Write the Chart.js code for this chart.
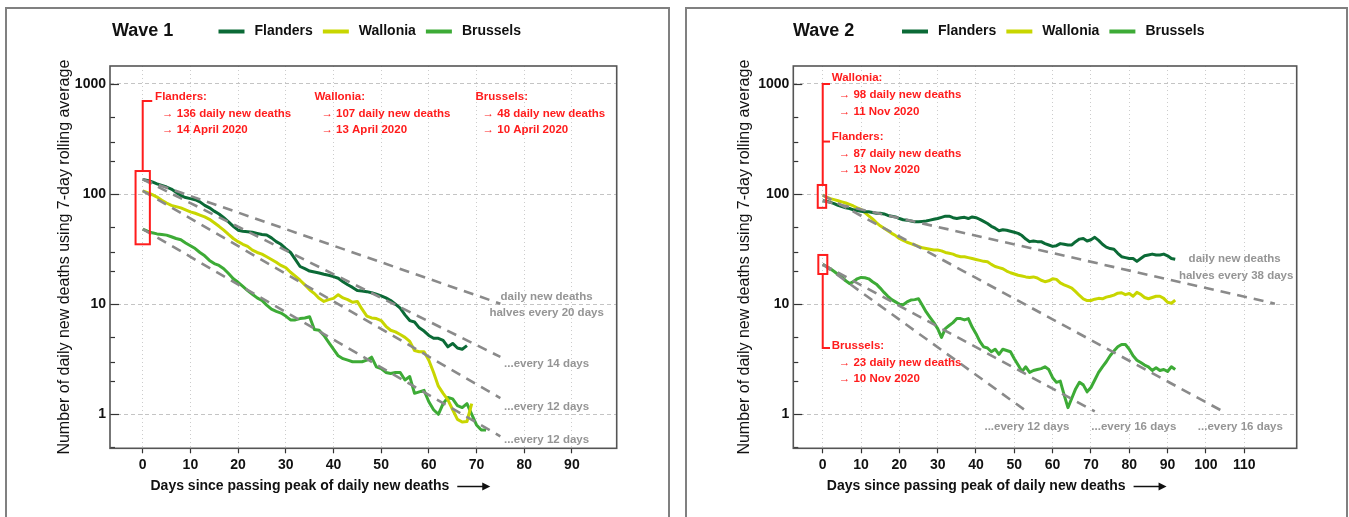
<!DOCTYPE html>
<html>
<head>
<meta charset="utf-8">
<script src="https://cdn.jsdelivr.net/npm/chart.js@4.4.1/dist/chart.umd.min.js"></script>
<style>
  html, body { margin: 0; padding: 0; background: #fff; }
  #wrap { position: relative; width: 1349px; height: 517px; overflow: hidden; }
  .panel { position: absolute; top: 7px; height: 530px; border: 2px solid #808080; box-sizing: border-box; }
  canvas { position: absolute; top: 0; }
</style>
</head>
<body>
<div id="wrap">
  <div class="panel" style="left:5px;width:665px"></div>
  <div class="panel" style="left:685px;width:663px"></div>
  <canvas id="wave1" width="680" height="517" style="left:0"></canvas>
  <canvas id="wave2" width="669" height="517" style="left:680px"></canvas>
</div>
<script>
// ---- data: 7-day rolling average of daily new deaths, indexed by days since the regional peak ----
const regions = ['Flanders', 'Wallonia', 'Brussels'];

const wave1Flanders = [136,133,129,124,120,116,111,104,97,93,
  91,89,85,79,75,70,66,61,56,51,
  47,46,45.5,45,44,43,42.5,40,37,35,
  32,29.5,25.5,22,21,20,19.6,19.2,18.7,18.3,
  17.8,17.2,16,15,14.2,13.3,13.2,13,12.7,12.3,
  11.9,11.4,10.8,10,9.2,8,7.1,6.9,6.1,5.7,
  5.2,4.9,4.9,4.7,4.1,4.4,4.0,3.9,4.2];
const wave1Wallonia = [107,103,99,94,88,83,79,77,75,72,
  69,67,64.5,62,59,55,51,47,43,39.5,
  37,35,33.5,31,29.5,28.5,27,25.5,24,22.5,
  21.5,19.5,18,16.5,15,13.5,12.5,11.3,10.6,11,
  11.3,12.2,11.4,11,10.4,10.6,9,7.8,7.5,7.4,
  7.1,6.3,5.8,5.6,5.3,5.0,4.6,3.8,3.7,3.7,
  3.1,2.4,1.8,1.55,1.35,1.1,0.9,0.85,0.86,1.25];
const wave1Brussels = [48,46,44.5,43.5,43,42.4,41,39.5,38.5,36,
  34,32,29.5,27.5,25,23.4,22.5,21,19,17,
  15.8,14.5,13.3,12.3,11.4,10.8,9.8,9.0,8.6,8.3,
  7.8,7.2,7.2,7.4,7.5,7.7,5.9,5.8,5.2,4.5,
  3.9,3.4,3.2,3.1,3.0,3.0,3.0,3.1,3.3,2.7,
  2.6,2.4,2.35,2.4,2.4,2.05,2.2,1.55,1.6,1.65,
  1.3,1.1,1.0,1.25,1.42,1.38,1.2,1.15,1.25,1.0,
  0.8,0.72,0.72];

const wave2Flanders = [87,86,84,82,79,77,75,74,72,71,
  70,69,69,68,67,67,66,64,63,62,
  60,58.5,58,57,56,56,56.5,57,58,59,
  60,61.5,63,63,61,60,61,61.5,60,62,
  61,59,56.5,54,51,49,46.5,47.5,47,46,
  45,44,42,39,37,37.5,37,37,35.5,34.5,
  33.5,34,35.5,35,34.5,34.5,37,39,39.5,37.5,
  38.5,40.5,38,35,33,32,31.5,29,27,26.5,
  26,26,24.5,26,27.5,28,28.5,28,28,28.5,
  27.5,26,25.6];
const wave2Wallonia = [98,94,91,89,87,85,83,80.5,78,75,
  72.5,68,63.5,59.5,55,51.5,49,46.5,44,42,
  39.5,38,36.5,35.5,34.5,33.5,32.5,32,31.5,31,
  31,30.5,29.5,29,28.5,27.5,27,27,26.5,26,
  25.5,25,24.5,24.3,23,22,21.5,21,20,19.3,
  18.8,18.3,18,17.7,17.5,17.7,17.3,16.5,16,16.3,
  17,16.8,15.6,15,14.5,14,13,12,11.2,10.8,
  10.8,11.1,11.3,11.2,11.6,11.8,12.1,12.6,12.7,12.2,
  12.5,11.8,12.8,12.3,11.5,11.2,11.5,11.8,11.8,11.3,
  10.4,10.2,10.9];
const wave2Brussels = [23,22,21,19.8,18.6,17.7,16.3,15.4,16,17,
  17.5,17.4,17,16,15.2,14,12.8,11.8,11,10.5,
  10,9.9,10.5,10.9,11,11.2,9.8,8.5,7.6,6.8,
  6.0,5.0,6.0,6.4,6.8,7.4,7.4,7.2,7.4,6.2,
  5.4,4.6,4.1,4.0,3.7,3.9,3.5,3.9,3.8,3.7,
  3.2,2.8,2.45,2.7,2.4,2.5,2.55,2.6,2.7,2.55,
  2.15,1.95,2.0,1.5,1.15,1.4,1.7,1.95,1.85,1.6,
  1.75,2.05,2.4,2.7,3.0,3.4,3.75,4.1,4.3,4.3,
  3.9,3.4,3.1,2.95,2.8,2.7,2.5,2.65,2.5,2.55,
  2.45,2.7,2.55];

// reference decay lines: starting level, halving time (days), last day drawn
const wave1TrendStart   = [136, 136, 107, 48];
const wave1TrendHalving = [20, 14, 12, 12];
const wave1TrendEnd     = [75, 75, 75, 75];
const wave2TrendStart   = [87, 98, 23, 23];
const wave2TrendHalving = [38, 16, 16, 12];
const wave2TrendEnd     = [118, 105, 71, 54];

const wave1PeakDates = ['14 April 2020', '13 April 2020', '10 April 2020'];
const wave2PeakDates = ['13 Nov 2020', '11 Nov 2020', '10 Nov 2020'];

const wave1XTicks = [0, 10, 20, 30, 40, 50, 60, 70, 80, 90];
const wave2XTicks = [0, 10, 20, 30, 40, 50, 60, 70, 80, 90, 100, 110];
const yTickValues = [0.5, 1, 2, 3, 5, 10, 20, 30, 50, 100, 200, 300, 500, 1000];
const yLabelValues = [1, 10, 100, 1000];

// ---- styling ----
const FAMILY = "'Liberation Sans', Arial, Helvetica, sans-serif";
const REGION_COLORS = ['#0b6a36', '#c8d600', '#3dab36'];
const RED = '#ff1c1c';
const GUIDE_GREY = '#959595';
Chart.defaults.font.family = FAMILY;

const peakNote = (name, series, date) => ({ title: name + ':', lines: ['\u2192 ' + series[0] + ' daily new deaths', '\u2192 ' + date] });

// header, red peak markers, grey guide captions, frame and inward y ticks
const overlay = {
  id: 'overlay',
  afterDatasetsDraw(chart, _a, o) {
    const { ctx, chartArea: a } = chart;
    const xs = chart.scales.x, ys = chart.scales.y;
    const px = v => xs.getPixelForValue(v), py = v => ys.getPixelForValue(v);
    ctx.save();
    // inward y ticks
    ctx.strokeStyle = '#333'; ctx.lineWidth = 1.2;
    yTickValues.forEach(v => {
      const yy = Math.round(py(v)) + 0.5;
      const len = yLabelValues.includes(v) ? 9 : 5;
      ctx.beginPath(); ctx.moveTo(a.left, yy); ctx.lineTo(a.left + len, yy); ctx.stroke();
    });
    // plot frame
    ctx.strokeStyle = '#555'; ctx.lineWidth = 1.6;
    ctx.strokeRect(a.left, a.top, a.right - a.left, a.bottom - a.top);
    // red peak markers
    ctx.strokeStyle = RED; ctx.lineWidth = 2;
    o.boxes.forEach(([x0, y0, x1, y1]) => {
      ctx.strokeRect(px(x0), py(y1), px(x1) - px(x0), py(y0) - py(y1));
    });
    o.brackets.forEach(path => {
      ctx.beginPath();
      path.forEach(([vx, vy], i) => i ? ctx.lineTo(px(vx), py(vy)) : ctx.moveTo(px(vx), py(vy)));
      ctx.stroke();
    });
    ctx.font = 'bold 11.5px ' + FAMILY;
    ctx.textBaseline = 'middle'; ctx.textAlign = 'left'; ctx.fillStyle = RED;
    o.notes.forEach(n => {
      const bx = px(n.x), by = py(n.y);
      ctx.fillText(n.note.title, bx, by);
      n.note.lines.forEach((t, i) => ctx.fillText(t, bx + 7, by + 16.8 * (i + 1)));
    });
    // grey captions of the decay lines
    ctx.fillStyle = GUIDE_GREY; ctx.textAlign = 'center';
    o.guides.forEach(g => ctx.fillText(g.text, px(g.x), py(g.y)));
    ctx.restore();
  },
  afterDraw(chart, _a, o) {
    const { ctx } = chart;
    ctx.save();
    ctx.textBaseline = 'middle'; ctx.textAlign = 'left'; ctx.fillStyle = '#111';
    // panel title
    ctx.font = 'bold 18px ' + FAMILY;
    ctx.fillText(o.title, o.titleX, 31.5);
    // legend
    ctx.font = 'bold 14px ' + FAMILY;
    let lx = o.legendX;
    chart.data.datasets.filter(d => d.isRegion).forEach(d => {
      ctx.strokeStyle = d.borderColor; ctx.lineWidth = 4;
      ctx.beginPath(); ctx.moveTo(lx, 31.5); ctx.lineTo(lx + 26, 31.5); ctx.stroke();
      lx += 36;
      ctx.fillText(d.label, lx, 31.5);
      lx += ctx.measureText(d.label).width + 10;
    });
    // x axis title with arrow
    const xt = 'Days since passing peak of daily new deaths';
    const ty = 486.5;
    ctx.fillText(xt, o.xTitleX, ty);
    const ax0 = o.xTitleX + ctx.measureText(xt).width + 8, ax1 = ax0 + 33;
    ctx.strokeStyle = '#111'; ctx.lineWidth = 1.5;
    ctx.beginPath(); ctx.moveTo(ax0, ty); ctx.lineTo(ax1 - 5, ty); ctx.stroke();
    ctx.beginPath(); ctx.moveTo(ax1, ty); ctx.lineTo(ax1 - 8, ty - 4); ctx.lineTo(ax1 - 8, ty + 4); ctx.closePath(); ctx.fill();
    ctx.restore();
  }
};

function buildChart(id, series, trendStart, trendHalving, trendEnd, xTicks, o) {
  const regionSets = series.map((arr, k) => ({
    label: regions[k], isRegion: true,
    data: arr.map((v, i) => ({ x: i, y: v })),
    borderColor: REGION_COLORS[k], backgroundColor: REGION_COLORS[k],
    borderWidth: 3, pointRadius: 0, tension: 0, borderJoinStyle: 'round', order: 1
  }));
  const trendSets = trendStart.map((s, k) => ({
    label: 'halving ' + trendHalving[k], isRegion: false,
    data: [{ x: 0, y: s }, { x: trendEnd[k], y: s * Math.pow(2, -trendEnd[k] / trendHalving[k]) }],
    borderColor: '#8a8a8a', borderWidth: 2.6, borderDash: [10, 7], pointRadius: 0, order: 0
  }));
  return new Chart(document.getElementById(id), {
    type: 'line',
    data: { datasets: regionSets.concat(trendSets) },
    options: {
      responsive: false, animation: false, devicePixelRatio: 1,
      events: [],
      layout: { padding: { left: 0, top: 66, right: o.padRight, bottom: 0 } },
      plugins: { legend: { display: false }, tooltip: { enabled: false }, overlay: o },
      scales: {
        x: {
          type: 'linear', min: o.xMin, max: o.xMax,
          afterBuildTicks: s => { s.ticks = xTicks.map(v => ({ value: v })); },
          afterFit: s => { s.height = 68.7; },
          ticks: { font: { size: 14, weight: 'bold' }, color: '#111', padding: 3, maxRotation: 0, autoSkip: false,
                   callback: v => String(v) },
          grid: { color: '#cccccc', lineWidth: 1, drawTicks: true, tickLength: 5,
                  tickColor: '#333', tickWidth: 1.2, tickBorderDash: [] },
          border: { display: false, dash: [1, 3] }
        },
        y: {
          type: 'logarithmic', min: 0.491, max: 1457,
          afterBuildTicks: s => { s.ticks = yTickValues.map(v => ({ value: v })); },
          afterFit: s => { s.width = o.yWidth; },
          ticks: { font: { size: 14, weight: 'bold' }, color: '#111', padding: 4, autoSkip: false,
                   callback: v => yLabelValues.includes(v) ? String(v) : '' },
          grid: { drawTicks: false, lineWidth: 1,
                  color: c => (c.tick && yLabelValues.includes(c.tick.value)) ? '#c4c4c4' : 'rgba(0,0,0,0)' },
          border: { display: false, dash: [4, 3] },
          title: { display: true, text: 'Number of daily new deaths using 7-day rolling average',
                   font: { size: 16 }, color: '#111', padding: { top: 55, bottom: 0 } }
        }
      }
    },
    plugins: [overlay]
  });
}

buildChart('wave1', [wave1Flanders, wave1Wallonia, wave1Brussels],
  wave1TrendStart, wave1TrendHalving, wave1TrendEnd, wave1XTicks, {
    xMin: -6.86, xMax: 99.4, yWidth: 110, padRight: 63.3,
    title: 'Wave 1', titleX: 112, legendX: 218.5, xTitleX: 150.5,
    boxes: [[-1.5, 35, 1.5, 162]],
    brackets: [[[0, 162], [0, 700], [2, 700]]],
    notes: [
      { x: 2.6, y: 767, note: peakNote('Flanders', wave1Flanders, wave1PeakDates[0]) },
      { x: 36.0, y: 767, note: peakNote('Wallonia', wave1Wallonia, wave1PeakDates[1]) },
      { x: 69.8, y: 767, note: peakNote('Brussels', wave1Brussels, wave1PeakDates[2]) }
    ],
    guides: [
      { x: 84.7, y: 11.7, text: 'daily new deaths' },
      { x: 84.7, y: 8.27, text: 'halves every ' + wave1TrendHalving[0] + ' days' },
      { x: 84.7, y: 2.9, text: '...every ' + wave1TrendHalving[1] + ' days' },
      { x: 84.7, y: 1.17, text: '...every ' + wave1TrendHalving[2] + ' days' },
      { x: 84.7, y: 0.59, text: '...every ' + wave1TrendHalving[3] + ' days' }
    ]
  });

buildChart('wave2', [wave2Flanders, wave2Wallonia, wave2Brussels],
  wave2TrendStart, wave2TrendHalving, wave2TrendEnd, wave2XTicks, {
    xMin: -7.68, xMax: 123.7, yWidth: 113.3, padRight: 52.3,
    title: 'Wave 2', titleX: 113, legendX: 222, xTitleX: 146.8,
    boxes: [[-1.3, 75, 0.9, 121], [-1.15, 18.8, 1.2, 28]],
    brackets: [[[0, 121], [0, 1000], [1.9, 1000]], [[0, 300], [1.9, 300]], [[0, 18.8], [0, 4], [1.9, 4]]],
    notes: [
      { x: 2.35, y: 1127, note: peakNote('Wallonia', wave2Wallonia, wave2PeakDates[1]) },
      { x: 2.35, y: 332, note: peakNote('Flanders', wave2Flanders, wave2PeakDates[0]) },
      { x: 2.35, y: 4.2, note: peakNote('Brussels', wave2Brussels, wave2PeakDates[2]) }
    ],
    guides: [
      { x: 107.5, y: 25.7, text: 'daily new deaths' },
      { x: 107.9, y: 18.2, text: 'halves every ' + wave2TrendHalving[0] + ' days' },
      { x: 53.3, y: 0.775, text: '...every ' + wave2TrendHalving[3] + ' days' },
      { x: 81.2, y: 0.775, text: '...every ' + wave2TrendHalving[2] + ' days' },
      { x: 109, y: 0.775, text: '...every ' + wave2TrendHalving[1] + ' days' }
    ]
  });
</script>
</body>
</html>
